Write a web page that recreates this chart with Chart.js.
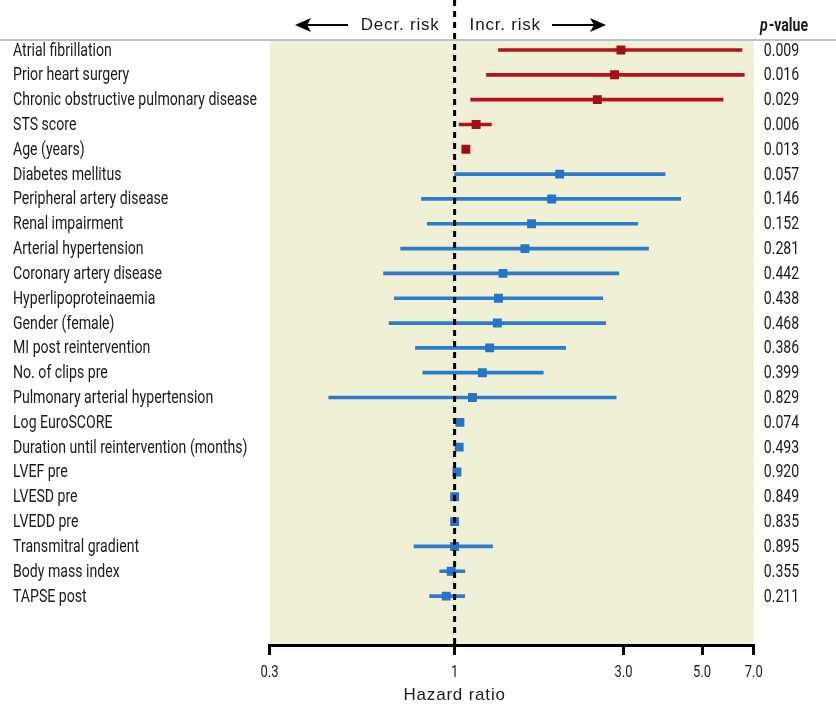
<!DOCTYPE html>
<html><head><meta charset="utf-8">
<script src="https://cdn.jsdelivr.net/npm/chart.js@4/dist/chart.umd.min.js"></script>
<style>html,body{margin:0;padding:0;background:#fff}#wrap{width:836px;height:708px;position:relative}</style>
</head><body><div id="wrap"><canvas id="c" width="836" height="708"></canvas></div>
<script>
const categories = [
  'Atrial fibrillation','Prior heart surgery','Chronic obstructive pulmonary disease','STS score','Age (years)',
  'Diabetes mellitus','Peripheral artery disease','Renal impairment','Arterial hypertension','Coronary artery disease',
  'Hyperlipoproteinaemia','Gender (female)','MI post reintervention','No. of clips pre','Pulmonary arterial hypertension',
  'Log EuroSCORE','Duration until reintervention (months)','LVEF pre','LVESD pre','LVEDD pre',
  'Transmitral gradient','Body mass index','TAPSE post'
];
const hazardRatio = [2.95,2.83,2.53,1.15,1.076, 1.98,1.88,1.65,1.58,1.37, 1.33,1.32,1.256,1.198,1.123, 1.035,1.03,1.015,1.0,1.0, 1.0,0.978,0.947];
const lowerCI     = [1.33,1.23,1.11,1.03,1.068, 1.0,0.806,0.837,0.704,0.63, 0.676,0.653,0.775,0.813,0.441, 1.03,1.025,1.01,0.995,0.995, 0.768,0.908,0.85];
const upperCI     = [6.48,6.58,5.73,1.27,1.084, 3.93,4.35,3.29,3.53,2.91, 2.62,2.67,2.06,1.78,2.86, 1.04,1.035,1.02,1.005,1.005, 1.28,1.069,1.068];
const pValues = ['0.009','0.016','0.029','0.006','0.013','0.057','0.146','0.152','0.281','0.442','0.438','0.468','0.386','0.399','0.829','0.074','0.493','0.920','0.849','0.835','0.895','0.355','0.211'];
const significantCount = 5;
const xTicks = [0.3, 1, 3, 5, 7];
const xTickLabels = ['0.3','1','3.0','5.0','7.0'];

const RED_LINE = '#b3131e', RED_PT = '#a50d18';
const BLUE_LINE = '#2c7bcc', BLUE_PT = '#2474c8';
const BASE = "Roboto, 'Liberation Sans', sans-serif";
const WIDE = "'Liberation Sans', sans-serif";
const TXT = '#1a1a1a';

const lineColors = categories.map((c,i)=> i < significantCount ? RED_LINE : BLUE_LINE);
const ptColors = categories.map((c,i)=> i < significantCount ? RED_PT : BLUE_PT);

function condensedText(ctx, text, x, y, align, font, sx) {
  ctx.save();
  ctx.font = font; ctx.textBaseline = 'middle'; ctx.textAlign = align;
  ctx.translate(x, y); ctx.scale(sx, 1);
  ctx.fillText(text, 0, 0);
  ctx.restore();
}

const decor = {
  id: 'decor',
  beforeDraw(chart) {
    const {ctx, chartArea: a} = chart;
    ctx.save();
    ctx.fillStyle = '#eff0d6';
    ctx.fillRect(a.left, a.top, a.right - a.left, a.bottom - a.top);
    ctx.strokeStyle = '#b7c3c7';
    ctx.lineWidth = 2;
    ctx.beginPath(); ctx.moveTo(0, a.top); ctx.lineTo(chart.width, a.top); ctx.stroke();
    ctx.restore();
  },
  afterDatasetsDraw(chart) {
    const {ctx, chartArea: a, scales} = chart;
    const x1 = scales.x.getPixelForValue(1);
    ctx.save();
    ctx.strokeStyle = '#000';
    ctx.lineWidth = 3;
    ctx.setLineDash([6,5]);
    ctx.beginPath(); ctx.moveTo(x1, 0); ctx.lineTo(x1, a.bottom); ctx.stroke();
    ctx.setLineDash([]);
    ctx.restore();
  },
  afterDraw(chart) {
    const {ctx, chartArea: a, scales} = chart;
    const x1 = scales.x.getPixelForValue(1);
    ctx.save();
    // condensation factor for the narrow label face
    ctx.font = '18px ' + BASE;
    const sx = 244 / ctx.measureText('Chronic obstructive pulmonary disease').width;
    ctx.fillStyle = TXT;
    // row labels and p-values
    categories.forEach((c, i) => {
      const y = scales.y.getPixelForValue(i) + 1;
      condensedText(ctx, c, 13, y, 'left', '18px ' + BASE, sx);
      condensedText(ctx, pValues[i], 781.5, y, 'center', '18px ' + BASE, sx);
    });
    // x tick labels
    xTicks.forEach((v, k) => {
      condensedText(ctx, xTickLabels[k], scales.x.getPixelForValue(v), 673, 'center', '16.5px ' + BASE, sx);
    });
    // p-value header
    ctx.font = 'italic bold 18px ' + BASE;
    const pw = ctx.measureText('p').width * sx;
    condensedText(ctx, 'p', 760, 26, 'left', 'italic bold 18px ' + BASE, sx);
    condensedText(ctx, '-value', 760 + pw + 1, 26, 'left', 'bold 18px ' + BASE, sx);
    // header risk texts
    ctx.fillStyle = TXT;
    ctx.font = '17px ' + WIDE;
    try { ctx.letterSpacing = '0.8px'; } catch(e) {}
    ctx.textBaseline = 'middle';
    ctx.textAlign = 'right';
    ctx.fillText('Decr. risk', x1 - 15, 25);
    ctx.textAlign = 'left';
    ctx.fillText('Incr. risk', x1 + 15, 25);
    ctx.textAlign = 'center';
    ctx.fillText('Hazard ratio', x1, 695);
    try { ctx.letterSpacing = '0px'; } catch(e) {}
    // arrows
    ctx.strokeStyle = '#000'; ctx.fillStyle = '#000'; ctx.lineWidth = 2;
    const ay = 25;
    ctx.beginPath(); ctx.moveTo(300, ay); ctx.lineTo(348, ay); ctx.stroke();
    ctx.beginPath(); ctx.moveTo(295, ay); ctx.lineTo(311, ay - 7); ctx.lineTo(307, ay); ctx.lineTo(311, ay + 7); ctx.closePath(); ctx.fill();
    ctx.beginPath(); ctx.moveTo(552, ay); ctx.lineTo(600, ay); ctx.stroke();
    ctx.beginPath(); ctx.moveTo(606, ay); ctx.lineTo(590, ay - 7); ctx.lineTo(594, ay); ctx.lineTo(590, ay + 7); ctx.closePath(); ctx.fill();
    ctx.restore();
  }
};

new Chart(document.getElementById('c'), {
  data: {
    datasets: [
      {
        type: 'scatter',
        data: categories.map((c,i)=>({x: hazardRatio[i], y: i})),
        pointStyle: 'rect',
        pointRadius: 6.3,
        pointHoverRadius: 6.3,
        backgroundColor: ptColors,
        borderWidth: 0,
        xAxisID: 'x', yAxisID: 'y',
        order: 1
      },
      {
        type: 'bar',
        indexAxis: 'y',
        data: categories.map((c,i)=>({x: [lowerCI[i], upperCI[i]], y: i})),
        backgroundColor: lineColors,
        borderWidth: 0,
        barThickness: 3,
        xAxisID: 'x', yAxisID: 'y',
        order: 2
      }
    ]
  },
  options: {
    responsive: false,
    animation: false,
    devicePixelRatio: 1,
    layout: { padding: { left: 269.5, right: 82.2, top: 40, bottom: 0 } },
    plugins: { legend: { display: false }, tooltip: { enabled: false } },
    scales: {
      x: {
        type: 'logarithmic', position: 'bottom', min: 0.3, max: 7,
        afterBuildTicks: s => { s.ticks = xTicks.map(v => ({value: v})); },
        afterFit: s => { s.height = 63; },
        ticks: { display: false, autoSkip: false },
        grid: { drawOnChartArea: false, drawTicks: true, tickLength: 10, color: '#000', lineWidth: 3 },
        border: { display: true, color: '#000', width: 3 }
      },
      y: {
        type: 'linear', position: 'left', reverse: true, min: -0.403, max: 23.97,
        offset: false, display: false,
        grid: { offset: false, display: false },
        ticks: { stepSize: 1 }
      }
    }
  },
  plugins: [decor]
});
</script>
</body></html>
